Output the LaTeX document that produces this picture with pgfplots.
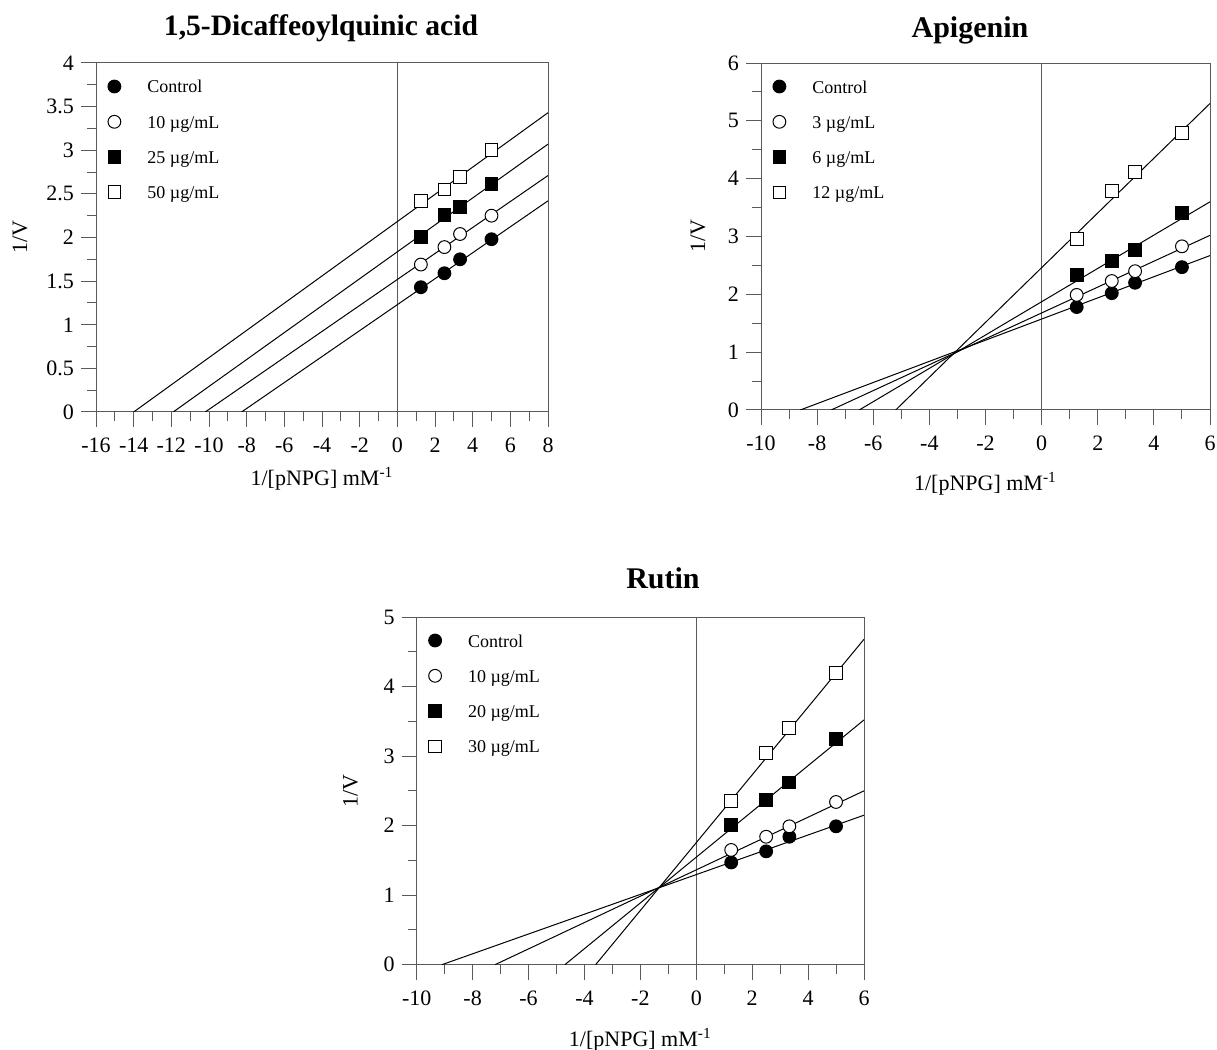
\documentclass[border=0pt]{standalone}
\usepackage{pgfplots}
\pgfplotsset{compat=1.18}
\usepackage{fontspec}
\setmainfont{Liberation Serif}

\definecolor{axgray}{RGB}{90,90,90}

\pgfplotsset{
  kin/.style={
    scale only axis,
    anchor=south west,
    axis x line*=box, axis y line*=box,
    tick pos=left,
    tick align=outside,
    major tick length=7.5pt,
    minor tick length=4.5pt,
    minor x tick num=1,
    minor y tick num=1,
    axis line style={axgray, line width=0.5pt},
    every tick/.style={axgray, line width=0.5pt},
    tick label style={font=\fontsize{11}{12}\selectfont},
    xticklabel style={yshift=-2pt},
    label style={font=\fontsize{11}{12}\selectfont},
    xlabel={1/[pNPG] mM\textsuperscript{-1}},
    ylabel={1/V},
    legend cell align=left,
    legend image code/.code={\draw[##1] plot coordinates {(0pt,1pt)};},
    legend style={draw=none, fill=none, inner sep=0pt, outer sep=0pt,
      font=\fontsize{9}{10}\selectfont,
      at={(axis description cs:0,1)}, anchor=north west,
      xshift=6pt, yshift=-8.5pt, row sep=9.15pt,
      nodes={inner sep=0pt, text height=6.5pt, text depth=2pt},
      /tikz/every odd column/.append style={column sep=13.3pt}},
  },
  fitline/.style={black, line width=0.5pt, no marks, forget plot},
  zline/.style={axgray, line width=0.5pt, no marks, forget plot},
  sCtrl/.style={only marks, mark=*, mark size=3.2pt, mark options={draw=black, fill=black, line width=0.5pt}},
  sOC/.style={only marks, mark=*, mark size=3.2pt, mark options={draw=black, fill=white, line width=0.5pt}},
  sFS/.style={only marks, mark=square*, mark size=3.2pt, mark options={draw=black, fill=black, line width=0.5pt}},
  sOS/.style={only marks, mark=square*, mark size=3.2pt, mark options={draw=black, fill=white, line width=0.5pt}},
}

\begin{document}
\begin{tikzpicture}
\useasboundingbox (0,0) rectangle (608.5pt,525pt);

% ---------------- 1,5-Dicaffeoylquinic acid ----------------
\node[font=\bfseries\fontsize{14.8}{16}\selectfont, anchor=base] at (160.5pt,507pt) {1,5-Dicaffeoylquinic acid};
\begin{axis}[kin,
  at={(48pt,319pt)}, width=226pt, height=174.5pt,
  xmin=-16, xmax=8, ymin=0, ymax=4,
  xtick={-16,-14,...,8},
  xticklabels={-16,-14,-12,-10,-8,-6,-4,-2,0,2,4,6,8},
  ytick={0,0.5,...,4},
  yticklabels={0,0.5,1,1.5,2,2.5,3,3.5,4},
  xlabel style={at={(axis description cs:0.5,-0.19)}, anchor=center},
  ylabel style={at={(axis description cs:-0.168,0.5)}, anchor=center},
]
\addplot[zline] coordinates {(0,0) (0,4)};
\addplot[fitline] coordinates {(-8.27,0) (8,2.42)};
\addplot[fitline] coordinates {(-10.2,0) (8,2.71)};
\addplot[fitline] coordinates {(-11.9,0) (8,3.07)};
\addplot[fitline] coordinates {(-14.0,0) (8,3.43)};
\addplot[sCtrl] coordinates {(1.25,1.43) (2.5,1.59) (3.33,1.75) (5,1.98)};
\addlegendentry{Control}
\addplot[sOC] coordinates {(1.25,1.69) (2.5,1.89) (3.33,2.04) (5,2.25)};
\addlegendentry{10 µg/mL}
\addplot[sFS] coordinates {(1.25,2.01) (2.5,2.26) (3.33,2.35) (5,2.61)};
\addlegendentry{25 µg/mL}
\addplot[sOS] coordinates {(1.25,2.42) (2.5,2.55) (3.33,2.69) (5,3.00)};
\addlegendentry{50 µg/mL}
\end{axis}

% ---------------- Apigenin ----------------
\node[font=\bfseries\fontsize{15}{16}\selectfont, anchor=base] at (485pt,506pt) {Apigenin};
\begin{axis}[kin,
  at={(380.5pt,320pt)}, width=224.5pt, height=173.5pt,
  xmin=-10, xmax=6, ymin=0, ymax=6,
  xtick={-10,-8,...,6},
  xticklabels={-10,-8,-6,-4,-2,0,2,4,6},
  ytick={0,1,...,6},
  yticklabels={0,1,2,3,4,5,6},
  xlabel style={at={(axis description cs:0.5,-0.212)}, anchor=center},
  ylabel style={at={(axis description cs:-0.14,0.5)}, anchor=center},
]
\addplot[zline] coordinates {(0,0) (0,6)};
\addplot[fitline] coordinates {(-8.6,0) (6,2.67)};
\addplot[fitline] coordinates {(-7.5,0) (6,3.02)};
\addplot[fitline] coordinates {(-6.5,0) (6,3.60)};
\addplot[fitline] coordinates {(-5.2,0) (6,5.30)};
\addplot[sCtrl] coordinates {(1.25,1.78) (2.5,2.02) (3.33,2.20) (5,2.47)};
\addlegendentry{Control}
\addplot[sOC] coordinates {(1.25,1.99) (2.5,2.23) (3.33,2.40) (5,2.83)};
\addlegendentry{3 µg/mL}
\addplot[sFS] coordinates {(1.25,2.33) (2.5,2.57) (3.33,2.76) (5,3.40)};
\addlegendentry{6 µg/mL}
\addplot[sOS] coordinates {(1.25,2.96) (2.5,3.78) (3.33,4.12) (5,4.79)};
\addlegendentry{12 µg/mL}
\end{axis}

% ---------------- Rutin ----------------
\node[font=\bfseries\fontsize{15}{16}\selectfont, anchor=base] at (331.5pt,230.5pt) {Rutin};
\begin{axis}[kin,
  at={(208.35pt,42.65pt)}, width=223.65pt, height=173.85pt,
  xmin=-10, xmax=6, ymin=0, ymax=5,
  xtick={-10,-8,...,6},
  xticklabels={-10,-8,-6,-4,-2,0,2,4,6},
  ytick={0,1,...,5},
  yticklabels={0,1,2,3,4,5},
  xlabel style={at={(axis description cs:0.5,-0.215)}, anchor=center},
  ylabel style={at={(axis description cs:-0.148,0.5)}, anchor=center},
]
\addplot[zline] coordinates {(0,0) (0,5)};
\addplot[fitline] coordinates {(-9.1,0) (6,2.15)};
\addplot[fitline] coordinates {(-7.2,0) (6,2.50)};
\addplot[fitline] coordinates {(-4.7,0) (6,3.52)};
\addplot[fitline] coordinates {(-3.6,0) (6,4.68)};
\addplot[sCtrl] coordinates {(1.25,1.47) (2.5,1.63) (3.33,1.84) (5,1.99)};
\addlegendentry{Control}
\addplot[sOC] coordinates {(1.25,1.65) (2.5,1.84) (3.33,1.99) (5,2.34)};
\addlegendentry{10 µg/mL}
\addplot[sFS] coordinates {(1.25,2.01) (2.5,2.37) (3.33,2.62) (5,3.24)};
\addlegendentry{20 µg/mL}
\addplot[sOS] coordinates {(1.25,2.35) (2.5,3.05) (3.33,3.40) (5,4.20)};
\addlegendentry{30 µg/mL}
\end{axis}
\end{tikzpicture}
\end{document}
